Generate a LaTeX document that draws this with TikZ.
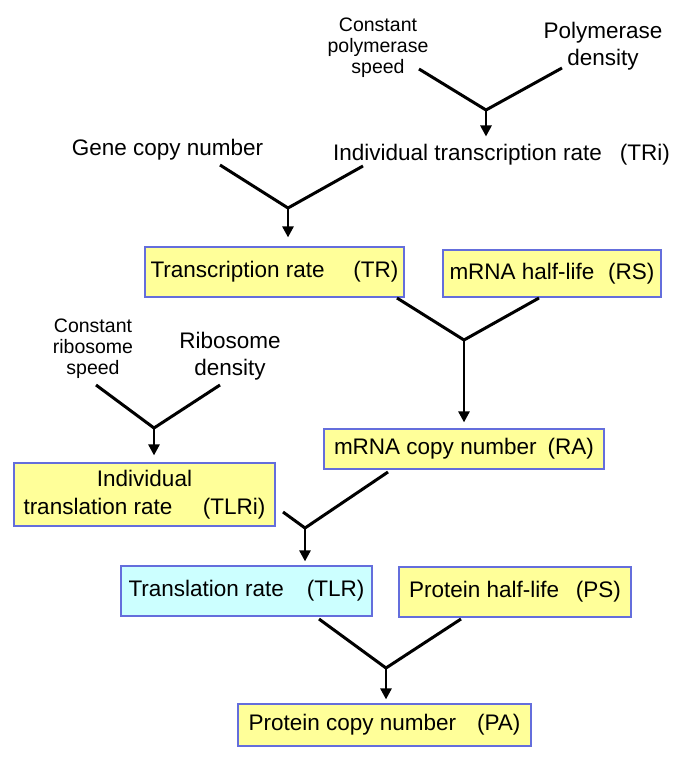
\documentclass[tikz,border=0pt]{standalone}
\usepackage{fontspec}
\setmainfont{Liberation Sans}
\usetikzlibrary{arrows.meta}

\definecolor{boxyellow}{RGB}{255,255,153}
\definecolor{boxcyan}{RGB}{204,255,255}
\definecolor{boxline}{RGB}{100,110,220}

\tikzset{
  big/.style={font=\fontsize{22.5}{27}\selectfont, inner sep=0pt},
  small/.style={font=\fontsize{19.5}{21}\selectfont, align=center, inner sep=0pt},
  qbox/.style={draw=boxline, line width=1.2pt, fill=boxyellow, inner sep=0pt,
    font=\fontsize{22.5}{28}\selectfont, align=center},
  vline/.style={line width=3pt, line join=miter},
  flow/.style={->, line width=2.6pt},
}
\newcommand{\pair}[3]{\makebox[#1pt]{#2\hfill#3}}

\begin{document}
\begin{tikzpicture}[x=1pt,y=-1pt,>={Triangle[length=11pt,width=11pt]}]
\useasboundingbox (0,0) rectangle (685,768);

% transcription part
\node[small] (cps) at (378,48) {Constant\\polymerase\\speed};
\node[big, align=center] (pd) at (603,46) {Polymerase\\density};
\node[big, anchor=base] (tri) at (501.5,160) {\pair{337}{Individual transcription rate}{(TRi)}};
\node[big, anchor=base] (gcn) at (167.5,155) {Gene copy number};

\node[qbox, minimum width=259pt, minimum height=50pt] (tr) at (274.5,272)
  {\pair{248}{Transcription rate}{(TR)}};
\node[qbox, minimum width=218pt, minimum height=47pt] (rs) at (552,273.5)
  {\pair{205}{mRNA half-life}{(RS)}};
\node[qbox, minimum width=280pt, minimum height=40pt] (ra) at (464,449)
  {\pair{260}{mRNA copy number}{(RA)}};

% translation part
\node[small] (crs) at (93,349) {Constant\\ribosome\\speed};
\node[big, align=center] (rd) at (230,356) {Ribosome\\density};
\node[qbox, minimum width=261pt, minimum height=63pt] (tlri) at (144.5,494.5)
  {Individual\\\pair{242}{translation rate}{(TLRi)}};
\node[qbox, fill=boxcyan, minimum width=251pt, minimum height=50pt] (tlr) at (246.5,591)
  {\pair{236}{Translation rate}{(TLR)}};
\node[qbox, minimum width=232pt, minimum height=50pt] (ps) at (515,592)
  {\pair{212}{Protein half-life}{(PS)}};
\node[qbox, minimum width=293pt, minimum height=42pt] (pa) at (384.5,725)
  {\pair{272}{Protein copy number}{(PA)}};

% junctions
\coordinate (j1) at (486,110);
\coordinate (j2) at (288,208);
\coordinate (j3) at (464,340);
\coordinate (j4) at (154,428);
\coordinate (j5) at (305,528);
\coordinate (j6) at (386,668);

% line ends
\coordinate (cps-e) at (419,69);
\coordinate (pd-e) at (562,68);
\coordinate (gcn-e) at (220,165);
\coordinate (tri-e) at (363,166);
\coordinate (tr-e) at (397,298);
\coordinate (rs-e) at (539,298);
\coordinate (crs-e) at (96,385);
\coordinate (rd-e) at (220,385);
\coordinate (tlri-e) at (283,512);
\coordinate (ra-e) at (388,472);
\coordinate (tlr-e) at (319,619);
\coordinate (ps-e) at (461,619);

% V shapes
\draw[vline] (cps-e) -- (j1) -- (pd-e);
\draw[vline] (gcn-e) -- (j2) -- (tri-e);
\draw[vline] (tr-e) -- (j3) -- (rs-e);
\draw[vline] (crs-e) -- (j4) -- (rd-e);
\draw[vline] (tlri-e) -- (j5) -- (ra-e);
\draw[vline] (tlr-e) -- (j6) -- (ps-e);

% arrows
\draw[flow, shorten >=7pt] (j1) -- (j1 |- tri.north);
\draw[flow, shorten >=9pt] (j2) -- (j2 |- tr.north);
\draw[flow, shorten >=6pt] (j3) -- (j3 |- ra.north);
\draw[flow, shorten >=7pt] (j4) -- (j4 |- tlri.north);
\draw[flow, shorten >=4pt] (j5) -- (j5 |- tlr.north);
\draw[flow, shorten >=4pt] (j6) -- (j6 |- pa.north);

\end{tikzpicture}
\end{document}
